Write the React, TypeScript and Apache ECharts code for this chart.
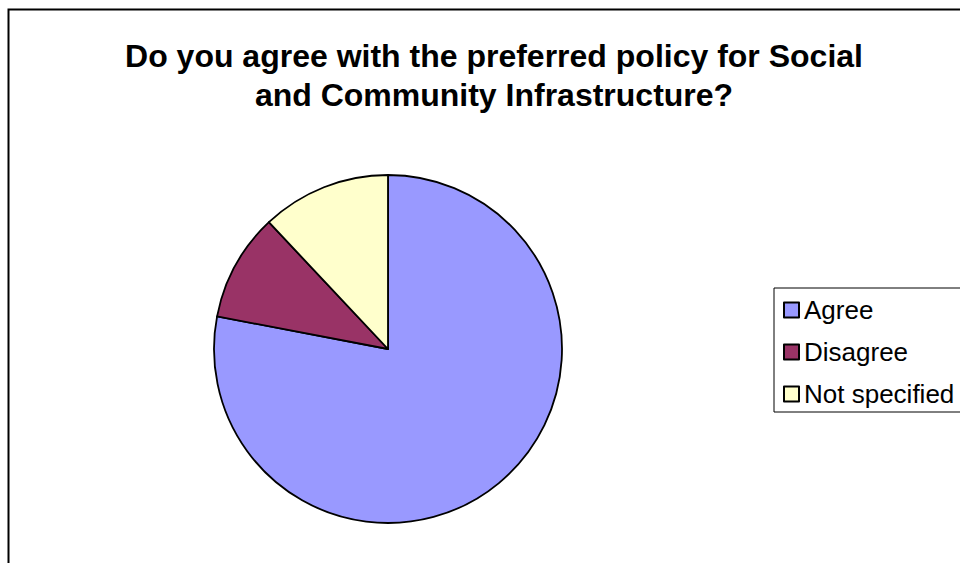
import React, { useEffect, useRef } from "react";
import * as echarts from "echarts";

const categories = ["Agree", "Disagree", "Not specified"];
const values = [78, 10, 12];
const colors = ["#9999FF", "#993366", "#FFFFCC"];
const titleText = "Do you agree with the preferred policy for Social\nand Community Infrastructure?";

export default function App() {
  const ref = useRef<HTMLDivElement>(null);
  useEffect(() => {
    if (!ref.current) return;
    const chart = echarts.init(ref.current, undefined, { renderer: "svg" });
    chart.setOption({
      animation: false,
      backgroundColor: "#ffffff",
      title: {
        text: titleText,
        left: 489,
        top: 31,
        textAlign: "center",
        textStyle: {
          fontFamily: "Liberation Sans",
          fontSize: 32,
          fontWeight: "bold",
          color: "#000000",
          lineHeight: 39,
        },
      },
      legend: {
        orient: "vertical",
        left: 774,
        top: 288,
        padding: [9, 14, 5, 9],
        borderColor: "#000000",
        borderWidth: 1,
        icon: "rect",
        itemWidth: 15,
        itemHeight: 15,
        itemGap: 16,
        itemTextGap: 8,
        data: categories,
        textStyle: { fontFamily: "Liberation Sans", fontSize: 26, color: "#000000", lineHeight: 26 },
      },
      graphic: [
        {
          type: "rect",
          shape: { x: 8.5, y: 9.5, width: 1000, height: 600 },
          style: { fill: "none", stroke: "#000000", lineWidth: 2 },
          silent: true,
          z: 100,
        },
      ],
      series: [
        {
          type: "pie",
          center: [388, 349],
          radius: 174,
          startAngle: 90,
          clockwise: true,
          label: { show: false },
          labelLine: { show: false },
          emphasis: { disabled: true },
          itemStyle: { borderColor: "#000000", borderWidth: 1.8 },
          data: categories.map((name, i) => ({
            name,
            value: values[i],
            itemStyle: { color: colors[i] },
          })),
        },
      ],
    });
    return () => chart.dispose();
  }, []);
  return (
    <div
      ref={ref}
      style={{ position: "fixed", left: 0, top: 0, width: 960, height: 563 }}
    />
  );
}
